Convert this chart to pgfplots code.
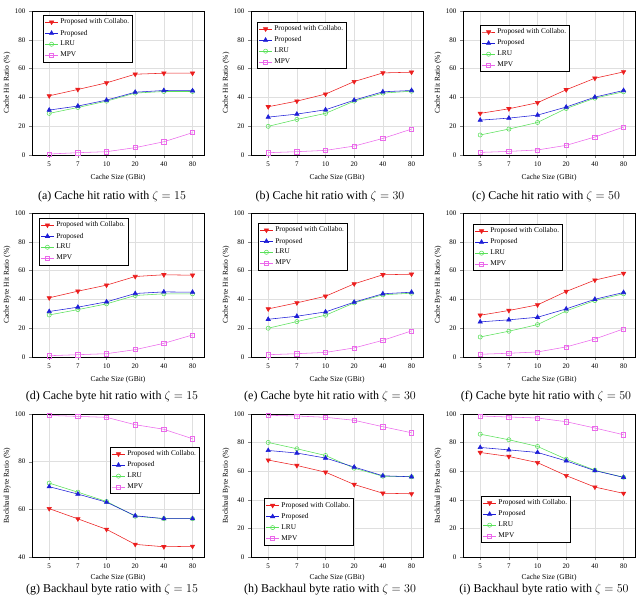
\documentclass[border=0pt]{standalone}
\usepackage{fontspec}
\setmainfont{Liberation Serif}
\usepackage{pgfplots}
\pgfplotsset{compat=1.18}
\definecolor{cRed}{RGB}{235,30,30}
\definecolor{cBlue}{RGB}{30,30,215}
\definecolor{cGreen}{RGB}{90,225,90}
\definecolor{cMag}{RGB}{235,105,235}
\pgfplotsset{
 collab/.style={color=cRed, line width=0.55pt, mark=triangle*, mark size=2.5pt, mark options={rotate=180, fill=cRed, draw=cRed, solid}},
 prop/.style={color=cBlue, line width=0.55pt, mark=triangle*, mark size=2.5pt, mark options={fill=cBlue, draw=cBlue, solid}},
 lru/.style={color=cGreen, line width=0.55pt, mark=o, mark size=2.1pt, mark options={draw=cGreen, solid}},
 mpv/.style={color=cMag, line width=0.55pt, mark=square, mark size=2.1pt, mark options={draw=cMag, solid}},
 panel/.style={
  scale only axis, width=172pt, height=144pt,
  xmin=-0.6, xmax=5.4, xtick={0,1,2,3,4,5}, xticklabels={5,7,10,20,40,80},
  ymin=0, ymax=100, ytick={0,20,40,60,80,100},
  tick align=outside, xtick pos=left, ytick pos=left,
  major tick length=3pt,
  grid=major, grid style={gray!25, line width=0.4pt},
  axis line style={black, line width=0.7pt},
  /pgf/number format/assume math mode=true,
  ticklabel style={font=\fontsize{7}{8}\selectfont},
  label style={font=\fontsize{7.5}{8.5}\selectfont},
  xlabel={Cache Size (GBit)},
  xlabel style={at={(axis description cs:0.5,-0.158)}, anchor=center},
  ylabel style={at={(axis description cs:-0.145,0.5)}, anchor=center},
  legend cell align=left,
  legend style={draw=black, line width=0.5pt, font=\fontsize{7.3}{8.5}\selectfont, inner sep=1.5pt, row sep=0.6pt, /tikz/every even column/.append style={column sep=2pt}},
  legend image code/.code={\draw[mark repeat=2,mark phase=2] plot coordinates {(0cm,0cm) (0.23cm,0cm) (0.46cm,0cm)};},
 },
}
\newcommand{\legs}{%
 \addlegendimage{collab}\addlegendentry{Proposed with Collabo.}
 \addlegendimage{prop}\addlegendentry{Proposed}
 \addlegendimage{lru}\addlegendentry{LRU}
 \addlegendimage{mpv}\addlegendentry{MPV}}
\newcommand{\capt}[1]{\fontsize{12}{14}\selectfont #1}
\begin{document}
\begin{tikzpicture}
\useasboundingbox (0,0) rectangle (644pt,594pt);
% ---------- (a)
\begin{axis}[panel, at={(32pt,439pt)}, anchor=south west, ylabel={Cache Hit Ratio (\%)},
 legend style={at={(0.064,0.972)}, anchor=north west}]
\legs
\addplot[lru, forget plot] coordinates {(0,28.9)(1,33.0)(2,37.4)(3,43.0)(4,44.1)(5,44.1)};
\addplot[mpv, forget plot] coordinates {(0,0.7)(1,1.6)(2,2.3)(3,5.1)(4,9.2)(5,15.5)};
\addplot[prop, forget plot] coordinates {(0,31.2)(1,34.0)(2,38.1)(3,43.6)(4,44.8)(5,44.6)};
\addplot[collab, forget plot] coordinates {(0,41.1)(1,45.5)(2,50.1)(3,56.1)(4,56.8)(5,56.8)};
\end{axis}
% ---------- (b)
\begin{axis}[panel, at={(251pt,439pt)}, anchor=south west, ylabel={Cache Hit Ratio (\%)},
 legend style={at={(0.035,0.924)}, anchor=north west}]
\legs
\addplot[lru, forget plot] coordinates {(0,19.9)(1,24.7)(2,28.9)(3,37.4)(4,43.0)(5,44.3)};
\addplot[mpv, forget plot] coordinates {(0,1.6)(1,2.3)(2,3.2)(3,6.2)(4,11.5)(5,18.0)};
\addplot[prop, forget plot] coordinates {(0,26.3)(1,28.4)(2,31.4)(3,38.1)(4,43.9)(5,44.8)};
\addplot[collab, forget plot] coordinates {(0,33.5)(1,37.4)(2,42.3)(3,51.0)(4,57.0)(5,57.5)};
\end{axis}
% ---------- (c)
\begin{axis}[panel, at={(463pt,439pt)}, anchor=south west, ylabel={Cache Hit Ratio (\%)},
 legend style={at={(0.099,0.903)}, anchor=north west}]
\legs
\addplot[lru, forget plot] coordinates {(0,13.9)(1,18.0)(2,22.6)(3,32.3)(4,39.5)(5,43.9)};
\addplot[mpv, forget plot] coordinates {(0,1.8)(1,2.5)(2,3.5)(3,6.7)(4,12.5)(5,19.4)};
\addplot[prop, forget plot] coordinates {(0,24.2)(1,25.6)(2,27.7)(3,33.3)(4,40.2)(5,44.8)};
\addplot[collab, forget plot] coordinates {(0,28.9)(1,32.1)(2,36.3)(3,45.3)(4,53.3)(5,57.7)};
\end{axis}
% ---------- (d)
\begin{axis}[panel, at={(32pt,237pt)}, anchor=south west, ylabel={Cache Byte Hit Ratio (\%)},
 legend style={at={(0.04,0.965)}, anchor=north west}]
\legs
\addplot[lru, forget plot] coordinates {(0,29.2)(1,32.9)(2,36.9)(3,42.7)(4,43.9)(5,43.9)};
\addplot[mpv, forget plot] coordinates {(0,0.9)(1,1.6)(2,2.3)(3,5.1)(4,9.5)(5,15.3)};
\addplot[prop, forget plot] coordinates {(0,31.6)(1,34.6)(2,38.3)(3,44.1)(4,45.2)(5,45.0)};
\addplot[collab, forget plot] coordinates {(0,41.1)(1,45.7)(2,49.9)(3,55.9)(4,57.1)(5,56.8)};
\end{axis}
% ---------- (e)
\begin{axis}[panel, at={(251pt,237pt)}, anchor=south west, ylabel={Cache Byte Hit Ratio (\%)},
 legend style={at={(0.04,0.93)}, anchor=north west}]
\legs
\addplot[lru, forget plot] coordinates {(0,20.0)(1,24.6)(2,29.0)(3,37.6)(4,43.2)(5,44.3)};
\addplot[mpv, forget plot] coordinates {(0,1.6)(1,2.3)(2,3.2)(3,6.3)(4,11.6)(5,18.1)};
\addplot[prop, forget plot] coordinates {(0,26.2)(1,28.3)(2,31.3)(3,38.1)(4,43.9)(5,45.0)};
\addplot[collab, forget plot] coordinates {(0,33.4)(1,37.6)(2,42.2)(3,50.8)(4,57.1)(5,57.5)};
\end{axis}
% ---------- (f)
\begin{axis}[panel, at={(463pt,237pt)}, anchor=south west, ylabel={Cache Byte Hit Ratio (\%)},
 legend style={at={(0.058,0.924)}, anchor=north west}]
\legs
\addplot[lru, forget plot] coordinates {(0,13.9)(1,17.9)(2,22.5)(3,32.0)(4,39.2)(5,43.9)};
\addplot[mpv, forget plot] coordinates {(0,1.9)(1,2.6)(2,3.5)(3,7.0)(4,12.5)(5,19.5)};
\addplot[prop, forget plot] coordinates {(0,24.4)(1,25.8)(2,27.6)(3,33.4)(4,40.1)(5,44.8)};
\addplot[collab, forget plot] coordinates {(0,29.0)(1,32.3)(2,36.2)(3,45.5)(4,53.4)(5,58.0)};
\end{axis}
% ---------- (g)
\begin{axis}[panel, height=143pt, at={(32pt,37pt)}, anchor=south west, ylabel={Backhaul Byte Ratio (\%)},
 ymin=40, ymax=100, ytick={40,60,80,100},
 xlabel style={at={(axis description cs:0.5,-0.143)}},
 legend style={at={(0.453,0.77)}, anchor=north west}]
\legs
\addplot[lru, forget plot] coordinates {(0,71.0)(1,67.2)(2,63.3)(3,57.1)(4,56.1)(5,56.1)};
\addplot[mpv, forget plot] coordinates {(0,99.4)(1,99.0)(2,98.6)(3,95.5)(4,93.6)(5,89.6)};
\addplot[prop, forget plot] coordinates {(0,69.5)(1,66.4)(2,63.0)(3,57.3)(4,56.1)(5,56.1)};
\addplot[collab, forget plot] coordinates {(0,60.3)(1,56.0)(2,51.6)(3,45.3)(4,44.3)(5,44.5)};
\end{axis}
% ---------- (h)
\begin{axis}[panel, height=143pt, at={(251pt,37pt)}, anchor=south west, ylabel={Backhaul Byte Ratio (\%)},
 xlabel style={at={(axis description cs:0.5,-0.143)}},
 legend style={at={(0.076,0.41)}, anchor=north west}]
\legs
\addplot[lru, forget plot] coordinates {(0,80.1)(1,75.7)(2,71.0)(3,62.1)(4,56.5)(5,56.1)};
\addplot[mpv, forget plot] coordinates {(0,99.1)(1,98.6)(2,97.7)(3,95.6)(4,91.1)(5,86.9)};
\addplot[prop, forget plot] coordinates {(0,74.5)(1,72.7)(2,69.2)(3,62.9)(4,56.8)(5,56.1)};
\addplot[collab, forget plot] coordinates {(0,67.8)(1,64.0)(2,59.3)(3,50.7)(4,44.6)(5,44.2)};
\end{axis}
% ---------- (i)
\begin{axis}[panel, height=143pt, at={(463pt,37pt)}, anchor=south west, ylabel={Backhaul Byte Ratio (\%)},
 xlabel style={at={(axis description cs:0.5,-0.143)}},
 legend style={at={(0.105,0.427)}, anchor=north west}]
\legs
\addplot[lru, forget plot] coordinates {(0,85.9)(1,82.0)(2,77.3)(3,68.4)(4,60.7)(5,55.7)};
\addplot[mpv, forget plot] coordinates {(0,98.6)(1,97.9)(2,97.2)(3,94.6)(4,90.2)(5,85.5)};
\addplot[prop, forget plot] coordinates {(0,76.6)(1,74.9)(2,73.1)(3,67.2)(4,60.4)(5,55.7)};
\addplot[collab, forget plot] coordinates {(0,73.1)(1,70.3)(2,66.0)(3,56.9)(4,48.9)(5,44.5)};
\end{axis}
% ---------- captions
\node at (112pt,397pt) {\capt{(a) Cache hit ratio with $\zeta=15$}};
\node at (330pt,397pt) {\capt{(b) Cache hit ratio with $\zeta=30$}};
\node at (546pt,397pt) {\capt{(c) Cache hit ratio with $\zeta=50$}};
\node at (112pt,197pt) {\capt{(d) Cache byte hit ratio with $\zeta=15$}};
\node at (330pt,197pt) {\capt{(e) Cache byte hit ratio with $\zeta=30$}};
\node at (546pt,197pt) {\capt{(f) Cache byte hit ratio with $\zeta=50$}};
\node at (112pt,4pt) {\capt{(g) Backhaul byte ratio with $\zeta=15$}};
\node at (330pt,4pt) {\capt{(h) Backhaul byte ratio with $\zeta=30$}};
\node at (544pt,4pt) {\capt{(i) Backhaul byte ratio with $\zeta=50$}};
\end{tikzpicture}
\end{document}
